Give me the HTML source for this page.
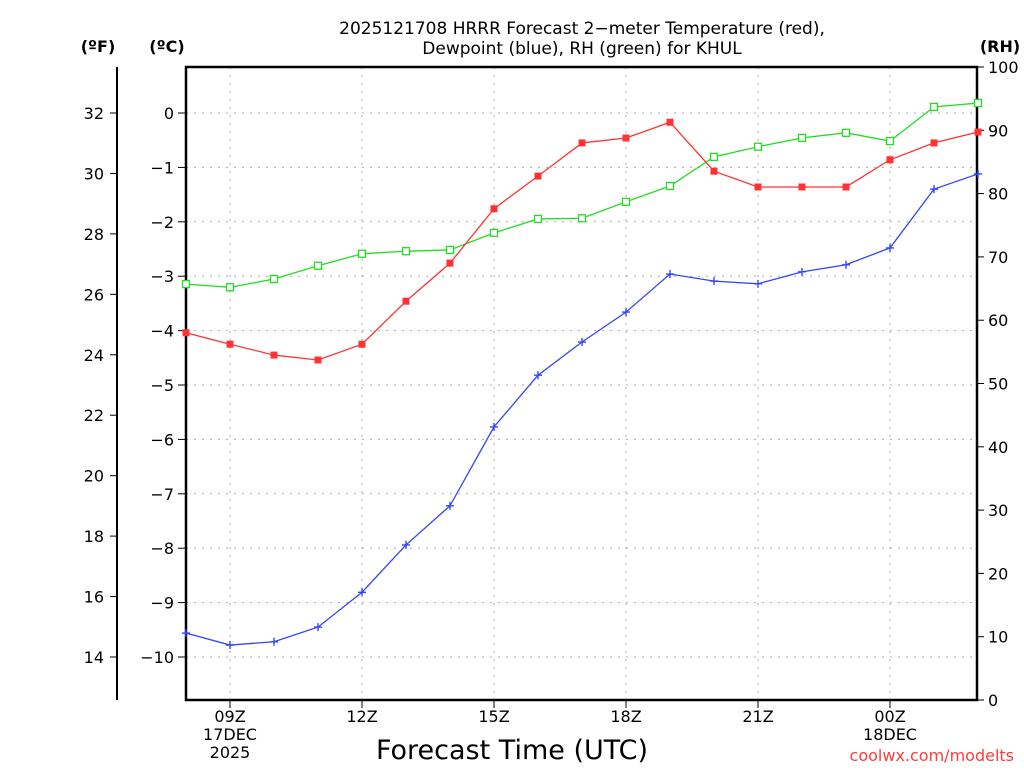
<!DOCTYPE html>
<html><head><meta charset="utf-8"><style>
body{margin:0;background:#fff;}
svg text{font-family:"DejaVu Sans","Liberation Sans",sans-serif;}
</style></head><body>
<svg id="chart" width="1024" height="768" xmlns="http://www.w3.org/2000/svg">
<rect width="1024" height="768" fill="#fff"/>
<text x="582" y="34" font-size="17" text-anchor="middle">2025121708 HRRR Forecast 2−meter Temperature (red),</text>
<text x="582" y="54" font-size="17" text-anchor="middle">Dewpoint (blue), RH (green) for KHUL</text>
<text x="98" y="52" font-size="16" font-weight="bold" text-anchor="middle">(ºF)</text>
<text x="167" y="52" font-size="16" font-weight="bold" text-anchor="middle">(ºC)</text>
<text x="1000" y="52" font-size="16" font-weight="bold" text-anchor="middle">(RH)</text>
<text x="512" y="759" font-size="27" text-anchor="middle">Forecast Time (UTC)</text>
<text x="1014" y="761" font-size="16" fill="#ff3b3b" text-anchor="end">coolwx.com/modelts</text>
<g id="grid"></g><g id="axes"></g><g id="series"></g>
</svg>
<script>
const hours = [8,9,10,11,12,13,14,15,16,17,18,19,20,21,22,23,0,1,2];
const tempC = [-4.04,-4.25,-4.45,-4.54,-4.25,-3.46,-2.76,-1.76,-1.16,-0.55,-0.46,-0.17,-1.07,-1.36,-1.36,-1.36,-0.86,-0.55,-0.35];
const dewC = [-9.56,-9.78,-9.72,-9.45,-8.81,-7.94,-7.22,-5.77,-4.82,-4.21,-3.66,-2.96,-3.09,-3.14,-2.92,-2.79,-2.48,-1.40,-1.12];
const rh = [65.7,65.2,66.5,68.6,70.5,70.9,71.1,73.8,76.0,76.1,78.7,81.2,85.8,87.4,88.8,89.6,88.3,93.7,94.3];
const cTicks = [0,-1,-2,-3,-4,-5,-6,-7,-8,-9,-10];
const fTicks = [32,30,28,26,24,22,20,18,16,14];
const rhTicks = [0,10,20,30,40,50,60,70,80,90,100];
const xLabels = [[1,"09Z","17DEC","2025"],[4,"12Z"],[7,"15Z"],[10,"18Z"],[13,"21Z"],[16,"00Z","18DEC"]];

const L=186,R=977,T=67,B=700;
const xS=i=>L+i*44;
const yC=c=>113-c*54.4;
const yF=f=>yC((f-32)*5/9);
const yRH=v=>B-v*(B-T)/100;
const NS="http://www.w3.org/2000/svg";
function mk(tag,attrs,parent,text){const e=document.createElementNS(NS,tag);for(const k in attrs)e.setAttribute(k,attrs[k]);if(text!==undefined)e.textContent=text;document.getElementById(parent).appendChild(e);return e;}

cTicks.forEach(c=>{const y=yC(c);
 const g=mk('line',{x1:L,x2:R,y1:y,y2:y,stroke:'#aaa','stroke-dasharray':'2,6'},'grid');
 
 
 mk('line',{x1:L-8,x2:L,y1:y,y2:y,stroke:'#000'},'axes');
 const t=mk('text',{x:L-12,y:y+6,'font-size':16,'text-anchor':'end'},'axes',c===0?"0":"−"+Math.abs(c));
 
 
});
fTicks.forEach(f=>{const y=yF(f);
 mk('line',{x1:110,x2:117,y1:y,y2:y,stroke:'#000'},'axes');
 const t=mk('text',{x:104,y:y+6,'font-size':16,'text-anchor':'end'},'axes',String(f));
 
 
});
rhTicks.forEach(v=>{const y=yRH(v);
 mk('line',{x1:R,x2:R+7,y1:y,y2:y,stroke:'#000'},'axes');
 const t=mk('text',{x:R+11,y:y+6,'font-size':16},'axes',String(v));
 
 
});
xLabels.forEach(l=>{const x=xS(l[0]);
 const g=mk('line',{x1:x,x2:x,y1:T,y2:B,stroke:'#aaa','stroke-dasharray':'2,6'},'grid');
 
 
 mk('line',{x1:x,x2:x,y1:B,y2:B+8,stroke:'#000'},'axes');
 for(let k=1;k<l.length;k++){const t=mk('text',{x:x,y:B+22+(k-1)*18,'font-size':16,'text-anchor':'middle'},'axes',l[k]);
  
  }
});
const fa=mk('line',{x1:117,x2:117,y1:T,y2:B,stroke:'#000','stroke-width':2},'axes');


const fr=mk('rect',{x:L,y:T,width:R-L,height:B-T,fill:'none',stroke:'#000','stroke-width':2.5},'axes');



function series(vals,yf,color,name,marker){
 const pts=vals.map((v,i)=>xS(i)+','+yf(v)).join(' ');
 const pl=mk('polyline',{points:pts,fill:'none',stroke:color,'stroke-width':1.3},'series');
 
 
 vals.forEach((v,i)=>{const x=xS(i),y=yf(v);let m;
  if(marker==='fill'){m=mk('rect',{x:x-3.5,y:y-3.5,width:7,height:7,fill:color},'series');}
  else if(marker==='open'){m=mk('rect',{x:x-3.5,y:y-3.5,width:7,height:7,fill:'#fff',stroke:color,'stroke-width':1.3},'series');}
  else{m=mk('path',{d:`M${x-4},${y}H${x+4}M${x},${y-4}V${y+4}`,stroke:color,'stroke-width':1.4},'series');}
  
  
 });
}
series(rh,yRH,'#22dd22','rh','open');
series(tempC,yC,'#ff3333','temperature','fill');
series(dewC,yC,'#3344ff','dewpoint','plus');
</script>
</body></html>
